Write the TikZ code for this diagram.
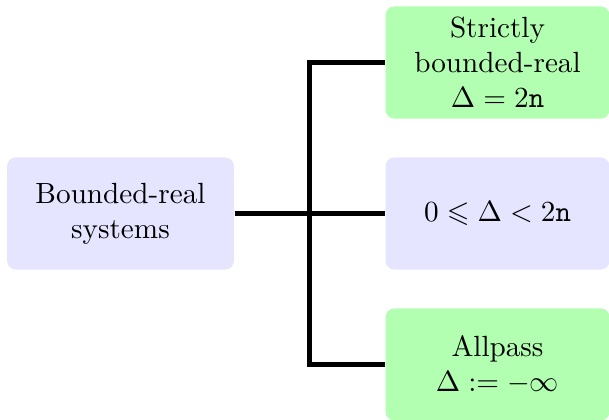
\documentclass[tikz,border=0pt]{standalone}
\usepackage{amssymb}
\begin{document}
\begin{tikzpicture}[x=0.3425pt,y=-0.3425pt,
  box/.style={rounded corners=3pt,align=center,inner sep=2pt,
    minimum height=38.4pt},
  blue box/.style={box,fill=blue!10},
  green box/.style={box,fill=green!30},
  link/.style={line width=1.5pt}]
\useasboundingbox (0,0) rectangle (609,419);
\node[blue box,minimum width=77.7pt] (L) at (120.5,213.5) {Bounded-real\\systems};
\node[green box,minimum width=76.7pt] (T) at (497.5,62.5) {Strictly\\bounded-real\\$\Delta = 2\mathtt{n}$};
\node[blue box,minimum width=76.7pt] (M) at (497.5,213.5) {$0 \leqslant \Delta < 2\mathtt{n}$};
\node[green box,minimum width=76.7pt] (B) at (497.5,364.5) {Allpass\\$\Delta := -\infty$};
\coordinate (j) at (309.5,213.5);
\draw[link] (L.east) -- (M.west);
\draw[link] (T.west) -| (j) |- (B.west);
\end{tikzpicture}
\end{document}
